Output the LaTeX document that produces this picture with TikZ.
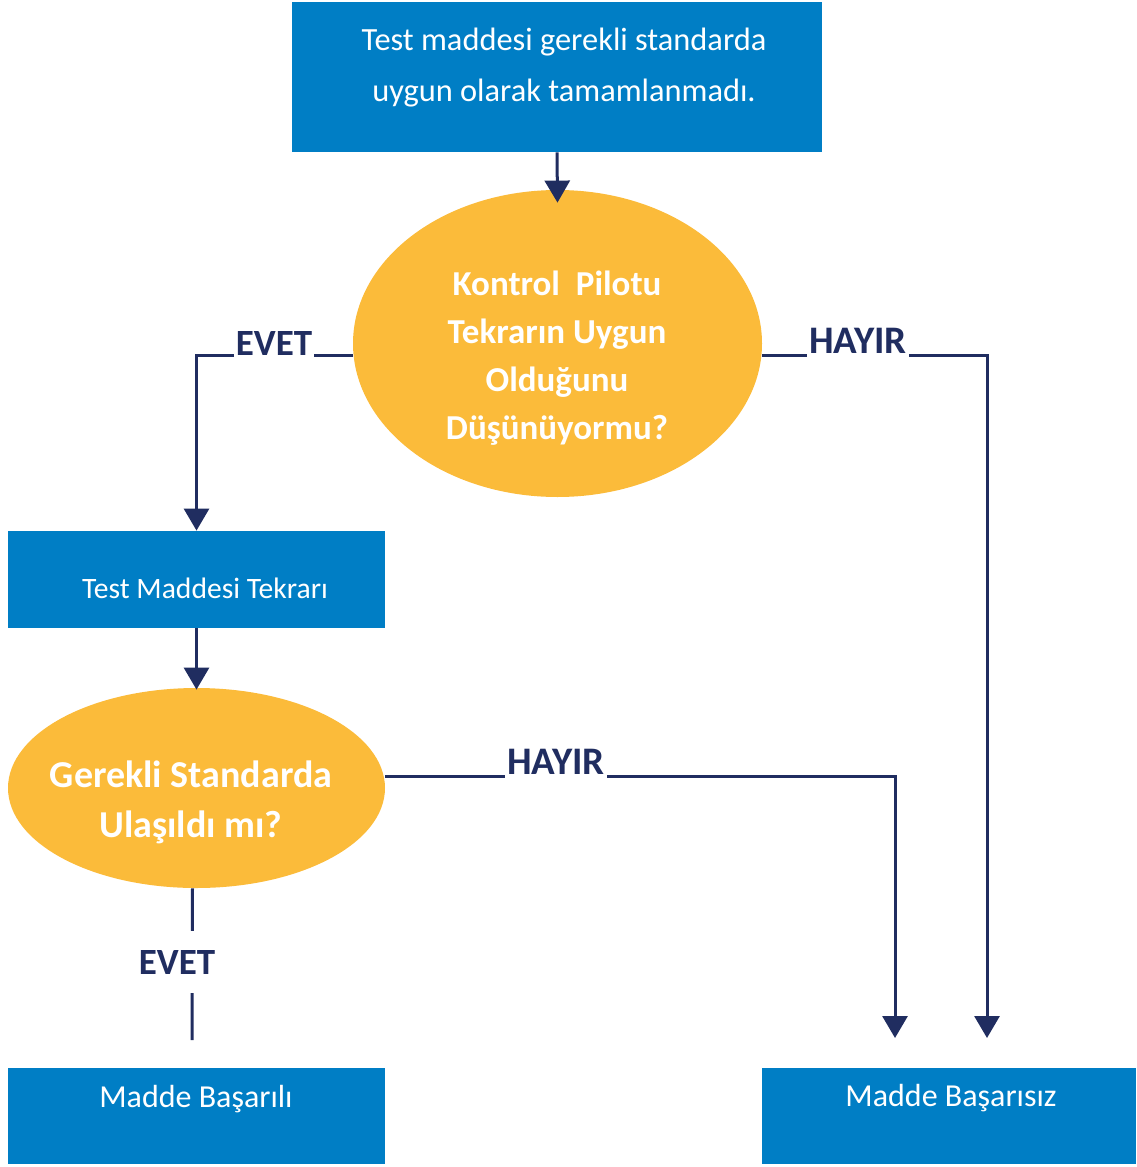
\documentclass[tikz,border=0pt]{standalone}
\usepackage{fontspec}
\setmainfont{Carlito}
\usetikzlibrary{positioning}
\usetikzlibrary{arrows.meta}
\usetikzlibrary{shapes.geometric}
\definecolor{boxblue}{RGB}{0,126,197}
\definecolor{askyellow}{RGB}{251,187,58}
\definecolor{linenavy}{RGB}{32,45,96}

\begin{document}
\begin{tikzpicture}[x=0.5pt,y=-0.5pt,
    blue box/.style={rectangle,fill=boxblue,inner sep=0pt},
    ask/.style={ellipse,fill=askyellow,inner sep=0pt},
    box text/.style={text=white,align=center,font=\fontsize{16}{19}\selectfont},
    ask text/.style={text=white,align=center},
    wire/.style={draw=linenavy,line width=1.5pt},
    flow/.style={wire,arrows={-Triangle[width=12.5pt,length=11pt]}},
    answer/.style={fill=white,text=linenavy,inner xsep=1pt,inner ysep=3pt,
      font=\fontsize{18.5}{22}\selectfont\bfseries}]
        \useasboundingbox (0,0) rectangle (1136,1167);
        % Boxes and questions
        \node[blue box,minimum width=265pt,minimum height=75pt] (top) at (557,77) {};
        \node[box text,font=\fontsize{16.2}{25.5}\selectfont] (toptext) at (564,68)
          {Test maddesi gerekli standarda\\uygun olarak tamamlanmadı.};
        \node[ask,minimum width=204.5pt,minimum height=153.5pt] (pilot) at (557.5,343.5) {};
        \node[ask text,font=\fontsize{17.5}{24}\selectfont\bfseries] (pilottext) at (557,358)
          {Kontrol~~Pilotu\\Tekrarın Uygun\\Olduğunu\\Düşünüyormu?};
        \node[blue box,minimum width=188.5pt,minimum height=48.5pt] (repeat) at (196.5,579.5) {};
        \node[box text,font=\fontsize{14.8}{19}\selectfont] (repeattext) at (205,588) {Test Maddesi Tekrarı};
        \node[ask,minimum width=188.5pt,minimum height=100pt] (std) at (196.5,788) {};
        \node[ask text,font=\fontsize{19}{25}\selectfont\bfseries] (stdtext) at (191,802)
          {Gerekli Standarda\\Ulaşıldı mı?};
        \node[blue box,minimum width=188.5pt,minimum height=48pt] (pass) at (196.5,1116) {};
        \node[box text] (passtext) at (196,1099) {Madde Başarılı};
        \node[blue box,minimum width=187pt,minimum height=48pt] (fail) at (949,1116) {};
        \node[box text] (failtext) at (951,1098) {Madde Başarısız};
        % Free ends above the result boxes
        \coordinate (failin1) at (895,1038);
        \coordinate (failin2) at (987,1038);
        \coordinate (passin) at (192,1040);
        % Connectors
        \draw[flow] (top.south) -- ([yshift=-6.5pt]pilot.north);
        \draw[flow] ([yshift=-6pt]pilot.west) -| (repeat.north);
        \draw[flow] ([yshift=-6pt]pilot.east) -| (failin2);
        \draw[flow] (repeat.south) -- ([yshift=-1pt]std.north);
        \draw[flow] ([yshift=6pt]std.east) -| (failin1);
        \draw[wire] ([xshift=-2pt]std.south) -- (passin);
        % Answers on the lines
        \node[answer] (yes1) at (274,343) {EVET};
        \node[answer,font=\fontsize{19.5}{22}\selectfont\bfseries] (no1) at (858,341) {HAYIR};
        \node[answer,font=\fontsize{19.5}{22}\selectfont\bfseries] (no2) at (556,762) {HAYIR};
        \node[answer,minimum height=31pt] (yes2) at (177,962) {EVET};
      \end{tikzpicture}
\end{document}
